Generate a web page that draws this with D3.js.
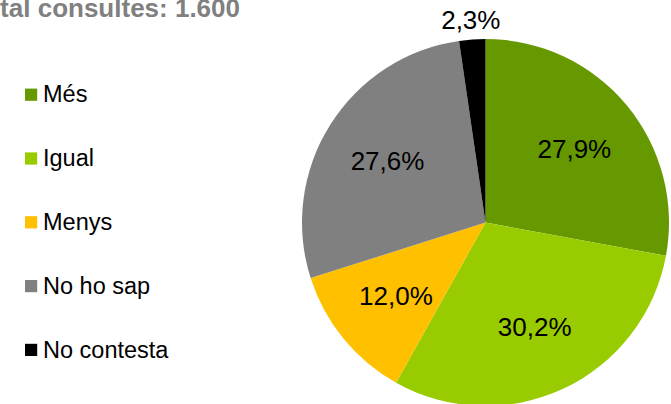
<!DOCTYPE html>
<html>
<head>
<meta charset="utf-8">
<script src="https://cdn.jsdelivr.net/npm/d3@7"></script>
<style>
  html, body { margin: 0; padding: 0; background: #fff; }
  svg { display: block; font-family: Arial, "Liberation Sans", sans-serif; }
</style>
</head>
<body>
<svg id="chart" width="671" height="404"></svg>
<script>
// Survey answers and their shares (%)
const categories = ["Més", "Igual", "Menys", "No ho sap", "No contesta"];
const values = [27.9, 30.2, 12.0, 27.6, 2.3];
const colors = ["#669900", "#99cc00", "#ffc000", "#808080", "#000000"];
const title = "Total consultes: 1.600";

const svg = d3.select("#chart");

const cx = 485.5, cy = 222.5, r = 183.5;
const fmt = v => d3.format(".1f")(v).replace(".", ",") + "%";

const data = categories.map((c, i) => ({ name: c, value: values[i], color: colors[i] }));

const pie = d3.pie().value(d => d.value).sort(null);
const arc = d3.arc().innerRadius(0).outerRadius(r);
const labelArc = d3.arc().innerRadius(r * 0.63).outerRadius(r * 0.63);
const outerArc = d3.arc().innerRadius(r + 20).outerRadius(r + 20);

const g = svg.append("g").attr("transform", `translate(${cx},${cy})`);
const arcs = pie(data);

g.selectAll("path.slice")
  .data(arcs)
  .join("path")
  .attr("class", "slice")
  .attr("d", arc)
  .attr("fill", d => d.data.color);

// Value labels: inside for large slices, outside for the narrow one
g.selectAll("text.val")
  .data(arcs)
  .join("text")
  .attr("class", "val")
  .attr("transform", d => {
    const inside = (d.endAngle - d.startAngle) > 0.3;
    const [x, y] = (inside ? labelArc : outerArc).centroid(d);
    return `translate(${x},${y})`;
  })
  .attr("text-anchor", "middle")
  .attr("dominant-baseline", "central")
  .attr("font-size", 26)
  .attr("fill", "#000")
  .text(d => fmt(d.data.value));

// Legend
const legendY = d3.scalePoint().domain(categories).range([94.8, 350]);
const legend = svg.append("g");
const rows = legend.selectAll("g.row")
  .data(data)
  .join("g")
  .attr("class", "row")
  .attr("transform", d => `translate(25,${legendY(d.name)})`);
rows.append("rect")
  .attr("x", 0).attr("y", -6.2)
  .attr("width", 12.2).attr("height", 12.2)
  .attr("fill", d => d.color);
rows.append("text")
  .attr("x", 18).attr("y", 7.5)
  .attr("font-size", 23.5)
  .attr("fill", "#000")
  .text(d => d.name);

// Title (runs off the left edge of the canvas)
svg.append("text")
  .attr("x", 240).attr("y", 17)
  .attr("text-anchor", "end")
  .attr("font-size", 26)
  .attr("font-weight", "bold")
  .attr("fill", "#808080")
  .text(title);
</script>
</body>
</html>
